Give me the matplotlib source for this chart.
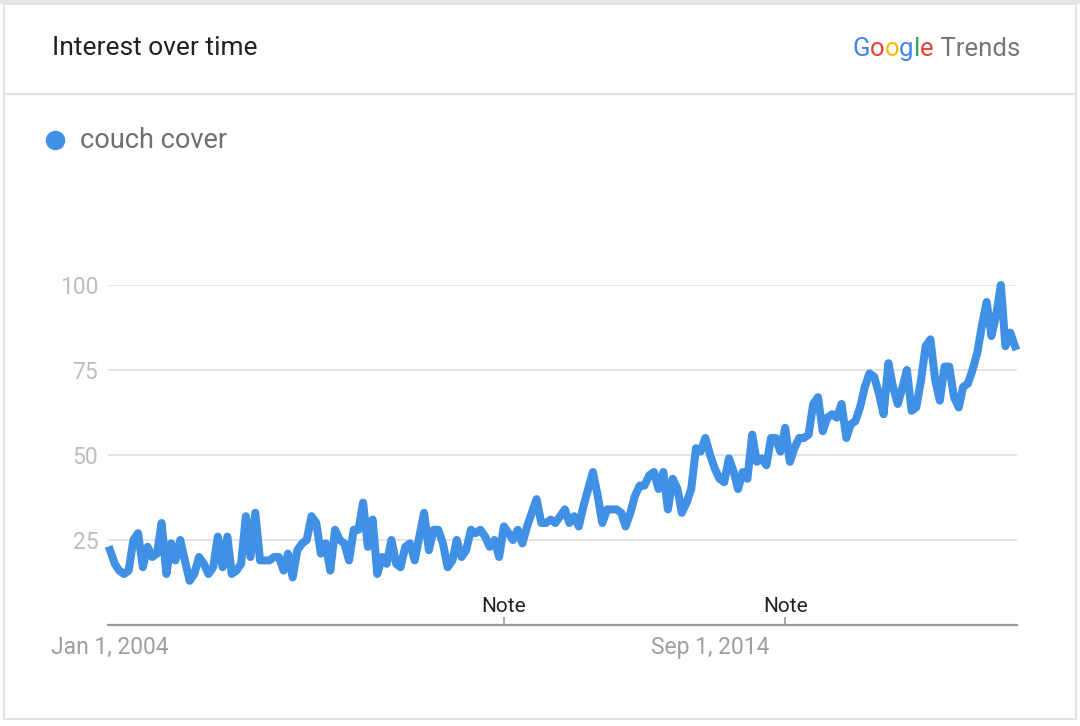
import matplotlib
matplotlib.use("Agg")
import matplotlib.pyplot as plt
from matplotlib.lines import Line2D
from matplotlib.patches import Rectangle
import pandas as pd

# monthly search interest, Jan 2004 .. Feb 2020
interest = [
    22, 18, 16, 15, 16, 25, 27, 17, 23, 20,
    21, 30, 15, 24, 19, 25, 19, 13, 15, 20,
    18, 15, 17, 26, 17, 26, 15, 16, 18, 32,
    20, 33, 19, 19, 19, 20, 20, 16, 21, 14,
    22, 24, 25, 32, 30, 21, 24, 16, 28, 25,
    24, 19, 28, 28, 36, 23, 31, 15, 20, 18,
    25, 18, 17, 23, 24, 19, 26, 33, 22, 28,
    28, 24, 17, 19, 25, 20, 22, 28, 27, 28,
    26, 23, 25, 20, 29, 27, 25, 28, 24, 29,
    33, 37, 30, 30, 31, 30, 32, 34, 30, 32,
    29, 35, 40, 45, 38, 30, 34, 34, 34, 33,
    29, 33, 38, 41, 41, 44, 45, 40, 45, 34,
    43, 40, 33, 36, 40, 52, 51, 55, 50, 46,
    43, 42, 49, 45, 40, 45, 43, 56, 48, 49,
    47, 55, 55, 51, 58, 48, 52, 55, 55, 56,
    65, 67, 57, 61, 62, 61, 65, 55, 59, 60,
    64, 70, 74, 73, 68, 62, 77, 70, 65, 70,
    75, 63, 64, 72, 82, 84, 72, 66, 76, 76,
    67, 64, 70, 71, 75, 80, 88, 95, 85, 91,
    100, 82, 86, 82,
]
dates = pd.date_range("2004-01-01", periods=len(interest), freq="MS")
series_name = "couch cover"
y_ticks = [25, 50, 75, 100]
tick_dates = pd.to_datetime(["2004-01-01", "2014-09-01"])
tick_labels = ["Jan 1, 2004", "Sep 1, 2014"]
note_dates = pd.to_datetime(["2011-01-01", "2016-01-01"])

LINE = "#4091e6"
W, H = 1080, 726

plt.rcParams["font.family"] = ["Roboto", "DejaVu Sans"]
fig = plt.figure(figsize=(W / 100, H / 100), dpi=100)
fig.patch.set_facecolor("white")

# card frame and header separator
fig.add_artist(Rectangle((0, 1 - 4 / H), 1, 4 / H, transform=fig.transFigure,
                         facecolor="#e6e6e6", edgecolor="none"))
fig.add_artist(Rectangle((4 / W, 1 - 719 / H), 1072 / W, 715 / H, transform=fig.transFigure,
                         facecolor="none", edgecolor="#e2e2e2", lw=1.5))
fig.add_artist(Line2D([4 / W, 1076 / W], [1 - 94 / H] * 2, color="#e0e0e0", lw=1.5))

fig.text(52 / W, 1 - 48 / H, "Interest over time", fontsize=19, color="#212121",
         ha="left", va="center")

# Google Trends wordmark, letter by letter
renderer = fig.canvas.get_renderer()
logo = [("G", "#4285F4"), ("o", "#EA4335"), ("o", "#FBBC05"), ("g", "#4285F4"),
        ("l", "#34A853"), ("e", "#EA4335"), (" Trends", "#757575")]
pieces = []
for s, c in logo:
    t = fig.text(0, 1 - 49 / H, s, fontsize=18.5, color=c, ha="left", va="center")
    pieces.append(t)
widths = [t.get_window_extent(renderer).width for t in pieces]
x = 1020 - sum(widths)
for t, w in zip(pieces, widths):
    t.set_x(x / W)
    x += w

# legend
fig.add_artist(Line2D([55 / W], [1 - 140 / H], marker="o", markersize=13,
                      color=LINE, linestyle="none"))
fig.text(80 / W, 1 - 140 / H, series_name, fontsize=19.5, color="#6f6f6f",
         ha="left", va="center")

ax = fig.add_axes([108 / W, 1 - 625 / H, (1017 - 108) / W, (625 - 285) / H])
ax.plot(dates, interest, color=LINE, lw=5.8, clip_on=False, zorder=3)

pad = pd.Timedelta(days=13)
ax.set_xlim(dates[0] - pad, dates[-1] + pad)
ax.set_ylim(0, 100)

for side in ["top", "right", "left"]:
    ax.spines[side].set_visible(False)
ax.spines["bottom"].set_color("#9a9a9a")
ax.spines["bottom"].set_linewidth(1.6)

ax.set_yticks(y_ticks)
ax.yaxis.grid(True, color="#e3e3e3", lw=1.3)
ax.set_axisbelow(True)
ax.tick_params(axis="y", length=0, pad=7, labelsize=16.5, labelcolor="#bdbdbd")

ax.set_xticks(tick_dates, tick_labels)
ax.tick_params(axis="x", length=0, pad=8, labelsize=16.5, labelcolor="#9e9e9e")
for lbl in ax.get_xticklabels():
    lbl.set_ha("center")

ax.vlines(note_dates, 0, 2.4, color="#9a9a9a", lw=1.2)
for d in note_dates:
    ax.text(d, 5.4, "Note", fontsize=15, color="#222222", ha="center", va="center")

fig.savefig("out.png", dpi=100)
